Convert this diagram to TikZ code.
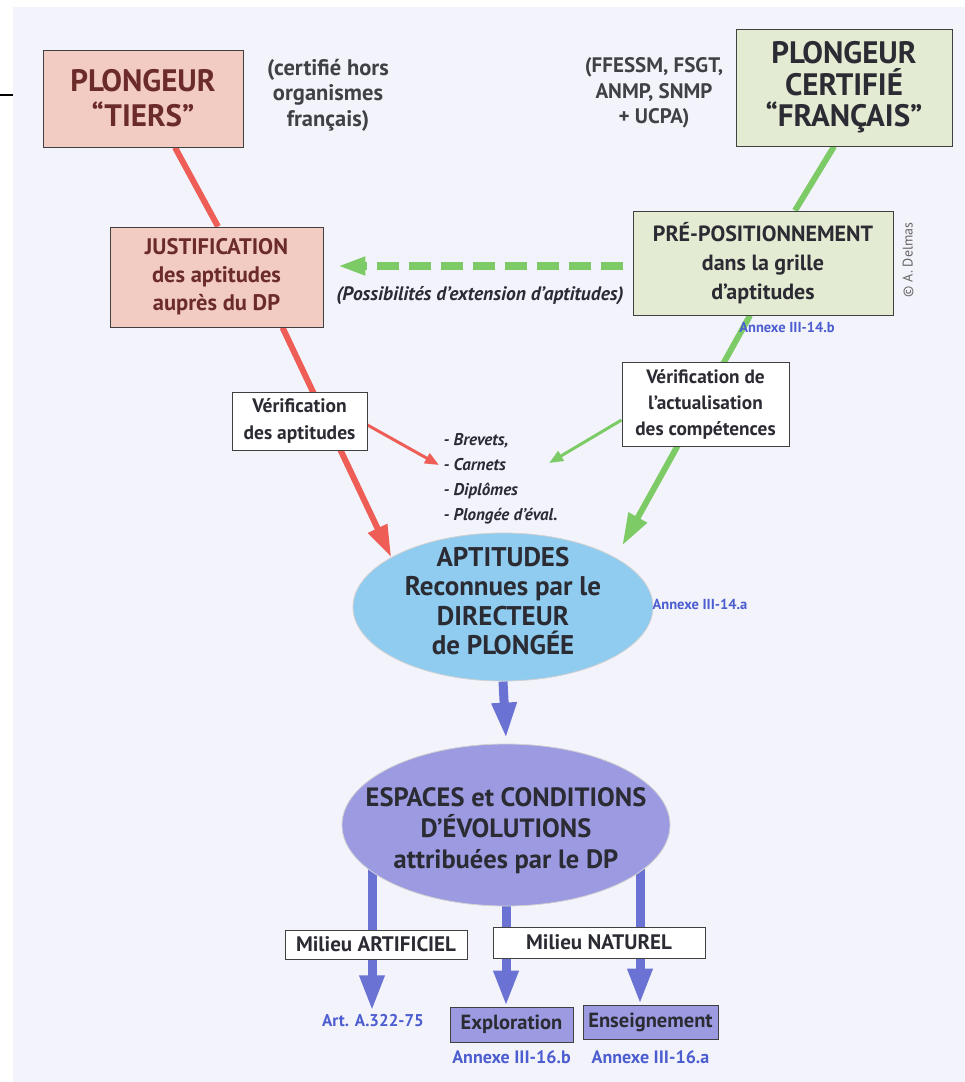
\documentclass[tikz,border=0pt]{standalone}
\usepackage{fontspec}
\setmainfont{PT Sans}
\usetikzlibrary{arrows.meta,positioning,shapes.geometric,backgrounds}

\definecolor{fond}{HTML}{F3F3FB}
\definecolor{rosefond}{HTML}{F2CBC2}
\definecolor{brique}{HTML}{6B2B28}
\definecolor{tilleul}{HTML}{E3EBD3}
\definecolor{rougeflux}{HTML}{EE5E57}
\definecolor{vertflux}{HTML}{7DCB67}
\definecolor{bleuref}{HTML}{4C5DCF}
\definecolor{ciel}{HTML}{8FCCF0}
\definecolor{mauve}{HTML}{9C9BE2}
\definecolor{bleuflux}{HTML}{6A72D3}
\definecolor{encre}{HTML}{2B2B33}

\begin{document}
\begin{tikzpicture}[x=1pt, y=-1pt,
      box/.style={draw=black!75, line width=0.9pt, align=center, inner sep=2pt, text=encre},
      rosebox/.style={box, fill=rosefond, text=brique},
      vertbox/.style={box, fill=tilleul},
      blancbox/.style={box, fill=white},
      mauvebox/.style={box, fill=mauve},
      bulle/.style={ellipse, draw=black!18, line width=0.8pt, inner sep=0pt},
      bulletexte/.style={align=center, inner sep=0pt, text=encre},
      annexe/.style={text=bleuref, font=\fontsize{14.5}{16}\selectfont\bfseries},
      note/.style={align=center, text=encre!90},
      lignerouge/.style={draw=rougeflux, line width=6pt},
      flecherouge/.style={lignerouge, -{Triangle[length=32pt,width=20pt]}},
      finerouge/.style={draw=rougeflux, line width=3pt, -{Triangle[length=14pt,width=11pt]}},
      ligneverte/.style={draw=vertflux, line width=6pt},
      flecheverte/.style={ligneverte, -{Triangle[length=32pt,width=20pt]}},
      fineverte/.style={draw=vertflux, line width=3pt, -{Triangle[length=14pt,width=11pt]}},
      pointilles/.style={draw=vertflux, line width=8pt, dash pattern=on 22pt off 10pt, -{Triangle[length=28pt,width=17pt]}},
      flechebleue/.style={draw=bleuflux, line width=9pt, -{Triangle[length=36pt,width=23pt]}}
    ]
      \useasboundingbox (0,0) rectangle (965,1082);
      \begin{scope}[on background layer]
        \fill[fond] (13,7) rectangle (965,1082);
        \draw[line width=1.6pt] (0,95) -- (13,95);
      \end{scope}

      % left branch
      \node[rosebox, minimum width=200pt, minimum height=97pt, font=\fontsize{31}{35}\selectfont\bfseries] (tiers) at (143,98.5) {PLONGEUR\\“TIERS”};
      \node[note, font=\fontsize{22.5}{25.5}\selectfont\bfseries] (horsfr) at (328,95) {(certifié hors\\organismes\\français)};
      \node[rosebox, minimum width=213pt, minimum height=100pt, font=\fontsize{22.5}{28}\selectfont\bfseries] (justif) at (216.5,277) {JUSTIFICATION\\des aptitudes\\auprès du DP};
      \node[blancbox, minimum width=135pt, minimum height=58pt, font=\fontsize{19.5}{27}\selectfont\bfseries] (verifapt) at (299.5,421) {Vérification\\des aptitudes};

      % right branch
      \node[vertbox, minimum width=216pt, minimum height=117pt, font=\fontsize{31}{31.5}\selectfont\bfseries] (francais) at (844,87.5) {PLONGEUR\\CERTIFIÉ\\“FRANÇAIS”};
      \node[note, font=\fontsize{21}{25.5}\selectfont\bfseries] (federations) at (654,93) {(FFESSM, FSGT,\\ANMP, SNMP\\+ UCPA)};
      \node[vertbox, minimum width=260pt, minimum height=104pt, font=\fontsize{22}{29}\selectfont\bfseries] (prepos) at (763,263) {PRÉ-POSITIONNEMENT\\dans la grille\\d’aptitudes};
      \node[annexe] (ann14b) at (787,327) {Annexe III-14.b};
      \node[rotate=90, text=black!60, font=\fontsize{14}{16}\selectfont] (delmas) at (908,260) {© A. Delmas};
      \node[blancbox, minimum width=167pt, minimum height=84pt, font=\fontsize{19.3}{26}\selectfont\bfseries] (actualis) at (705.5,404) {Vérification de\\l’actualisation\\des compétences};

      \node[align=left, anchor=west, text=encre, font=\fontsize{17}{25}\selectfont\bfseries\itshape] (pieces) at (440,479) {- Brevets,\\- Carnets\\- Diplômes\\- Plongée d’éval.};

      % centre
      \node[bulle, fill=ciel, minimum width=300pt, minimum height=148pt] (aptitudes) at (503,607) {};
      \node[bulletexte, font=\fontsize{27}{29.5}\selectfont\bfseries] (aptitudestxt) at (503,601) {APTITUDES\\Reconnues par le\\DIRECTEUR\\de PLONGÉE};
      \node[annexe] (ann14a) at (700,604) {Annexe III-14.a};
      \node[bulle, fill=mauve, minimum width=328pt, minimum height=162pt] (espaces) at (506,825) {};
      \node[bulletexte, font=\fontsize{26.5}{31}\selectfont\bfseries] (espacestxt) at (506,831) {ESPACES et CONDITIONS\\D’ÉVOLUTIONS\\attribuées par le DP};

      % bottom
      \node[blancbox, inner sep=1pt, minimum width=182pt, minimum height=29pt, font=\fontsize{21}{22}\selectfont\bfseries] (artif) at (376,944.5) {Milieu ARTIFICIEL};
      \node[blancbox, inner sep=1pt, minimum width=212pt, minimum height=31pt, font=\fontsize{21}{22}\selectfont\bfseries] (naturel) at (599,942.5) {Milieu NATUREL};
      \node[mauvebox, minimum width=123pt, minimum height=35pt, font=\fontsize{20.5}{22}\selectfont\bfseries] (explo) at (511.5,1024.5) {Exploration};
      \node[mauvebox, minimum width=135pt, minimum height=34pt, font=\fontsize{20.5}{22}\selectfont\bfseries] (enseign) at (650.5,1022) {Enseignement};
      \node[annexe, font=\fontsize{17}{18}\selectfont\bfseries] (artA) at (373,1021) {Art. A.322-75};
      \node[annexe, font=\fontsize{18}{19}\selectfont\bfseries, below=5pt of explo] (ann16b) {Annexe III-16.b};
      \node[annexe, font=\fontsize{18}{19}\selectfont\bfseries] (ann16a) at (ann16b -| enseign) {Annexe III-16.a};

      \begin{scope}[on background layer]
        \draw[lignerouge] ([xshift=32pt]tiers.south) -- ([xshift=1.5pt]justif.north);
        \draw[flecherouge] ([xshift=66pt]justif.south) -- (aptitudes.156);
        \draw[finerouge] ([yshift=-4pt]verifapt.east) -- ([xshift=-1pt,yshift=14pt]pieces.west);
        \draw[ligneverte] ([xshift=-10pt]francais.south) -- ([xshift=32pt]prepos.north);
        \draw[flecheverte] ([xshift=-13pt]prepos.south) -- ([xshift=13pt,yshift=9pt]aptitudes.north east);
        \draw[fineverte] ([yshift=-16pt]actualis.west) -- ([xshift=-12pt,yshift=16pt]pieces.east);
        \draw[pointilles] ([xshift=-10pt,yshift=-3pt]prepos.west) -- ([xshift=14pt,yshift=-3pt]prepos.west -| justif.east)
          node[midway, below=16pt, inner sep=0pt, text=encre, font=\fontsize{19.5}{21}\selectfont\bfseries\itshape] (extension) {(Possibilités d’extension d’aptitudes)};
        \draw[flechebleue] (aptitudes.south) -- ([yshift=5pt]espaces.north);
        \draw[flechebleue] ([xshift=-134pt]espaces.center) -- ([xshift=-134pt]espaces.center |- artA.north);
        \draw[flechebleue] (espaces.south) -- (espaces.south |- explo.north);
        \draw[flechebleue] ([xshift=134pt]espaces.center) -- ([xshift=134pt]espaces.center |- enseign.north);
      \end{scope}
    \end{tikzpicture}
\end{document}
